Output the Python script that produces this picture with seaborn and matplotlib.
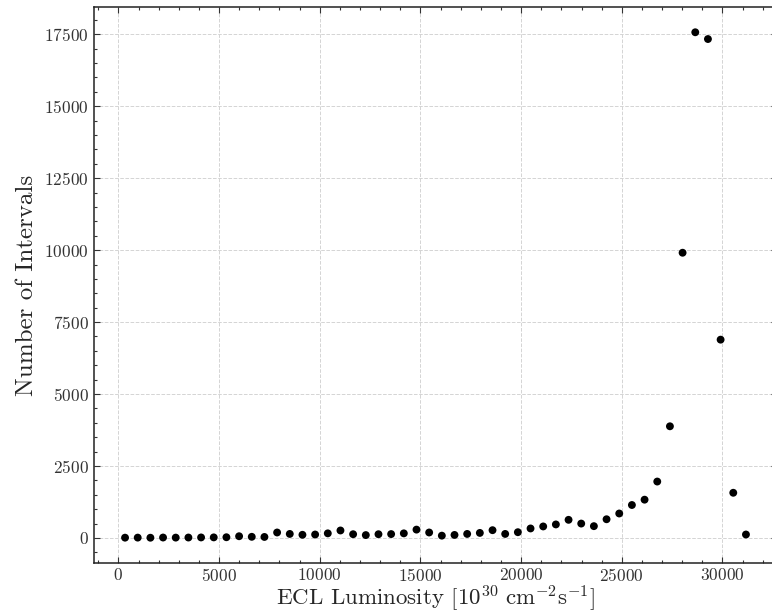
import matplotlib
matplotlib.use("Agg")
import matplotlib.pyplot as plt
from matplotlib.ticker import AutoMinorLocator
import seaborn as sns
import pandas as pd

luminosity = [330, 959, 1589, 2218, 2847, 3477, 4106, 4735, 5364, 5994,
              6623, 7252, 7882, 8511, 9140, 9770, 10399, 11028, 11657, 12287,
              12916, 13545, 14175, 14804, 15433, 16063, 16692, 17321, 17950, 18580,
              19209, 19838, 20468, 21097, 21726, 22356, 22985, 23614, 24243, 24873,
              25502, 26131, 26761, 27390, 28019, 28649, 29278, 29907, 30536, 31166]
n_intervals = [10, 12, 8, 15, 12, 15, 18, 20, 25, 60,
               40, 35, 190, 140, 110, 120, 160, 260, 130, 100,
               130, 135, 160, 290, 190, 80, 105, 140, 175, 270,
               140, 200, 330, 400, 470, 630, 500, 410, 650, 850,
               1145, 1330, 1960, 3880, 9910, 17570, 17335, 6890, 1570, 120]

df = pd.DataFrame({"lum": luminosity, "n": n_intervals})

sns.set_theme(style="ticks")
plt.rcParams.update({
    "font.family": "serif",
    "font.serif": ["cmr10", "DejaVu Serif"],
    "mathtext.fontset": "cm",
    "axes.formatter.use_mathtext": True,
    "axes.unicode_minus": True,
})

fig = plt.figure(figsize=(7.72, 6.15), dpi=100)
ax = fig.add_axes([94 / 772, 52 / 615, 683 / 772, 556 / 615])

sns.scatterplot(data=df, x="lum", y="n", ax=ax, color="black", s=32,
                linewidth=0, edgecolor="none", zorder=3)

ax.grid(True, which="major", linestyle="--", color="#d4d4d4", linewidth=0.7)
ax.set_axisbelow(True)
ax.xaxis.set_minor_locator(AutoMinorLocator())
ax.yaxis.set_minor_locator(AutoMinorLocator())
ax.tick_params(which="both", direction="in", top=True, right=True, labelsize=12.5,
               width=0.8, color="#333333", labelcolor="#333333")
ax.tick_params(which="major", length=4.5, pad=4)
ax.tick_params(axis="x", which="major", pad=3)
ax.tick_params(which="minor", length=2.5)
for sp in ax.spines.values():
    sp.set_linewidth(1.1)
    sp.set_color("#222222")

ax.set_xlabel(r"ECL Luminosity $[10^{30}\ \mathrm{cm}^{-2}\mathrm{s}^{-1}]$", fontsize=16.5, labelpad=0)
ax.set_ylabel("Number of Intervals", fontsize=18, labelpad=4)

fig.savefig("out.png", dpi=100)
